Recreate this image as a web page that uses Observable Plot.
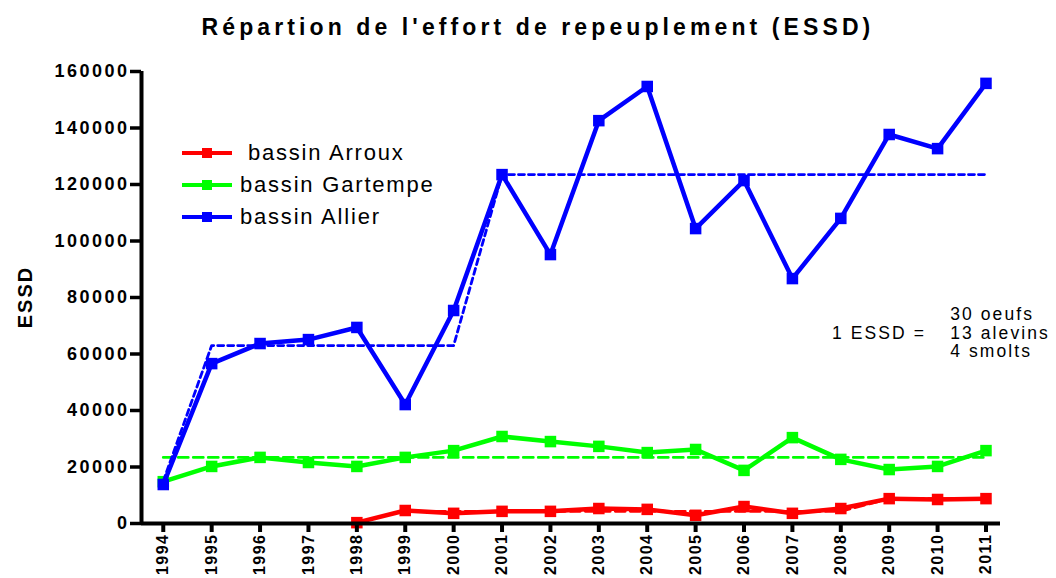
<!DOCTYPE html>
<html>
<head>
<meta charset="utf-8">
<script src="https://cdn.jsdelivr.net/npm/d3@7"></script>
<script src="https://cdn.jsdelivr.net/npm/@observablehq/plot@0.6"></script>
<style>
  html, body { margin: 0; padding: 0; background: #fff; }
  #wrap { position: relative; width: 1056px; height: 578px; font-family: "Liberation Sans", Arial, sans-serif; color: #000; }
  #chart { position: absolute; left: 0; top: 0; }
  #title { position: absolute; left: 0; width: 1076px; top: 14px; text-align: center; font-size: 23px; font-weight: bold; letter-spacing: 4.1px; white-space: nowrap; }
  #ylab { position: absolute; left: 25px; top: 297px; transform: translate(-50%, -50%) rotate(-90deg); font-size: 20px; font-weight: bold; letter-spacing: 2px; white-space: nowrap; }
  #legend { position: absolute; left: 182px; top: 137px; }
  #legend .row { display: flex; align-items: center; height: 32px; font-size: 22px; letter-spacing: 1.8px; white-space: pre; }
  #legend svg { margin-right: 8px; }
  #note { position: absolute; font-size: 17.5px; letter-spacing: 2.1px; white-space: pre; }
  #note .line { height: 18.5px; line-height: 18.5px; }
  svg g[aria-label="y-axis tick label"] text { letter-spacing: 2.5px; }
  svg g[aria-label="x-axis tick label"] text { letter-spacing: 1.5px; }
</style>
</head>
<body>
<div id="wrap">
  <div id="chart"></div>
  <div id="title"></div>
  <div id="ylab"></div>
  <div id="legend"></div>
  <div id="note"></div>
</div>
<script>
const years = [1994,1995,1996,1997,1998,1999,2000,2001,2002,2003,2004,2005,2006,2007,2008,2009,2010,2011];
const arroux   = [null,null,null,null,300,4600,3600,4300,4300,5300,5000,2900,6000,3600,5300,8800,8500,8800];
const gartempe = [14800,20200,23400,21600,20200,23400,25800,30800,29000,27300,25100,26200,18800,30400,22700,19100,20200,25800];
const allier   = [13800,56600,63700,65100,69400,42100,75400,123500,95200,142600,154700,104400,121400,86700,108000,137700,132700,155800];
const arrouxTrend   = [null,null,null,null,null,4300,4300,4300,4300,4300,4300,4300,4300,4300,4300,8800,8800,8800];
const gartempeTrend = [23400,23400,23400,23400,23400,23400,23400,23400,23400,23400,23400,23400,23400,23400,23400,23400,23400,23400];
const allierTrend   = [15000,63000,63000,63000,63000,63000,63000,123500,123500,123500,123500,123500,123500,123500,123500,123500,123500,123500];
const yTicks = [0,20000,40000,60000,80000,100000,120000,140000,160000];
const seriesNames = [" bassin Arroux", "bassin Gartempe", "bassin Allier"];
const seriesColors = ["#ff0000", "#00ff00", "#0000ff"];
const titleText = "Répartion de l'effort de repeuplement (ESSD)";
const yLabel = "ESSD";
const noteLeft = "1 ESSD =";
const noteRight = ["30 oeufs", "13 alevins", "4 smolts"];

const seriesValues = [arroux, gartempe, allier];
const trendValues = [arrouxTrend, gartempeTrend, allierTrend];

const rows = [];
const trendRows = [];
seriesValues.forEach((vals, i) => {
  vals.forEach((v, j) => { if (v != null) rows.push({series: i, year: years[j], value: v}); });
  trendValues[i].forEach((v, j) => { if (v != null) trendRows.push({series: i, year: years[j], value: v}); });
});

const xDomain = [1993.55, 2011.3];
const marks = [];
seriesValues.forEach((_, i) => {
  const d = rows.filter(r => r.series === i);
  const t = trendRows.filter(r => r.series === i);
  marks.push(Plot.line(d, {x: "year", y: "value", stroke: seriesColors[i], strokeWidth: 4.5, strokeLinejoin: "miter"}));
  marks.push(Plot.line(t, {x: "year", y: "value", stroke: seriesColors[i], strokeWidth: 2.8, strokeDasharray: i === 2 ? "6,4" : "10,5"}));
  marks.push(Plot.dot(d, {x: "year", y: "value", symbol: "square", r: 6.5, fill: seriesColors[i], stroke: "none"}));
});

const chart = Plot.plot({
  width: 1056,
  height: 578,
  marginLeft: 141,
  marginRight: 56,
  marginTop: 71,
  marginBottom: 55,
  style: {fontFamily: "'Liberation Sans', Arial, sans-serif", background: "#fff", color: "#000"},
  x: {type: "linear", domain: xDomain},
  y: {domain: [0, 160000]},
  marks: [
    ...marks,
    Plot.axisX({ticks: years, tickFormat: d => String(d), tickRotate: -90, fontSize: 16, fontWeight: "bold", tickSize: 9, strokeWidth: 4, tickPadding: 1, label: null}),
    Plot.axisY({ticks: yTicks, tickFormat: d => String(d), fontSize: 18, fontWeight: "bold", tickSize: 11, strokeWidth: 3.5, tickPadding: 1, label: null}),
    Plot.ruleY([0], {stroke: "#000", strokeWidth: 4}),
    Plot.ruleX([xDomain[0]], {stroke: "#000", strokeWidth: 4})
  ]
});
document.getElementById("chart").appendChild(chart);

document.getElementById("title").textContent = titleText;
document.getElementById("ylab").textContent = yLabel;

const legend = document.getElementById("legend");
seriesNames.forEach((name, i) => {
  const row = document.createElement("div");
  row.className = "row";
  row.innerHTML = `<svg width="50" height="12"><line x1="0" y1="6" x2="50" y2="6" stroke="${seriesColors[i]}" stroke-width="4"/><rect x="20" y="1" width="10" height="10" fill="${seriesColors[i]}"/></svg>`;
  const span = document.createElement("span");
  span.textContent = name;
  row.appendChild(span);
  legend.appendChild(row);
});

const note = document.getElementById("note");
note.style.left = "832px";
note.style.top = "305px";
note.innerHTML = `<div style="display:flex;align-items:center"><div class="line" style="margin-right:24px">${noteLeft}</div><div>${noteRight.map(s => `<div class="line">${s}</div>`).join("")}</div></div>`;
</script>
</body>
</html>
